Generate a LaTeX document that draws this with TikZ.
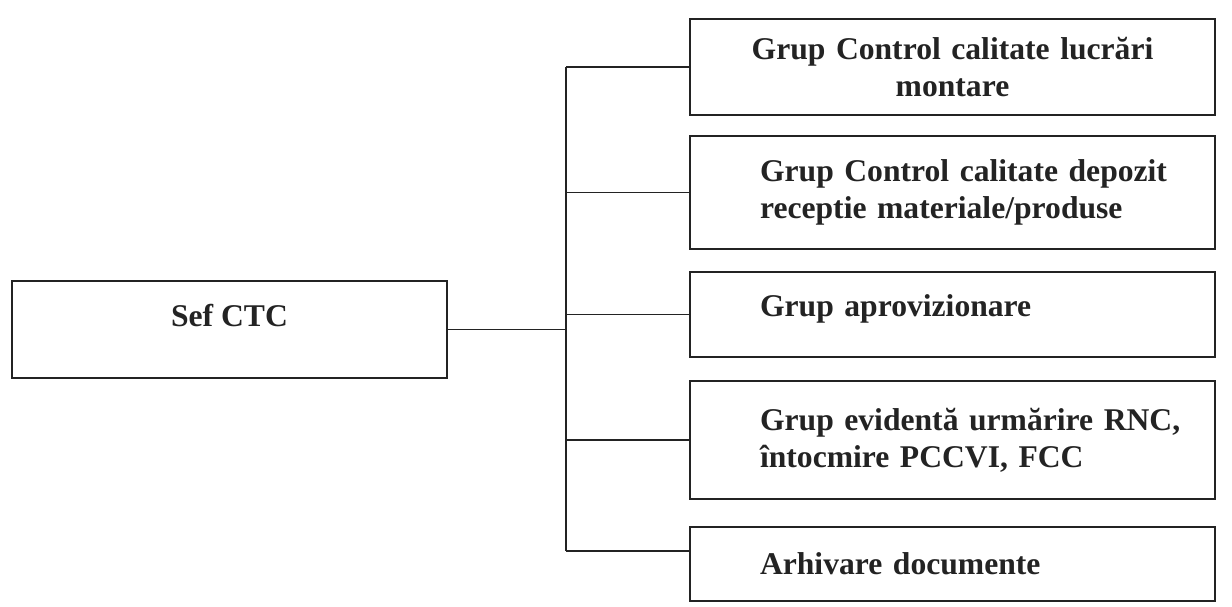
\documentclass[tikz,border=0pt]{standalone}
\usepackage{fontspec}
\setmainfont{Liberation Serif}
\definecolor{inkd}{RGB}{35,35,35}

\begin{document}
\begin{tikzpicture}[x=0.02cm, y=-0.02cm, line width=0.8pt, inkd,
        sefbox/.style={draw, minimum width=8.7cm, minimum height=1.94cm, font=\fontsize{18}{21}\selectfont\bfseries},
        grupbox/.style={draw, minimum width=10.5cm, text width=9.3cm, align=left, font=\fontsize{18}{21}\selectfont\bfseries},
        indented/.style={execute at begin node={\leftskip=0.8cm}}]
            \useasboundingbox (0,0) rectangle (1232,607);
            \node[sefbox, text depth=16.5pt] (sef) at (229.5,329.5) {Sef CTC};
            \node[grupbox, align=center, minimum height=1.92cm] (cal) at (952.5,67) {Grup Control calitate lucrări\\montare};
            \node[grupbox, indented, minimum height=2.26cm] (dep) at (952.5,192.5) {Grup Control calitate depozit\\receptie materiale/produse};
            \node[grupbox, indented, minimum height=1.7cm, text depth=10.5pt] (apr) at (952.5,314.5) {Grup aprovizionare};
            \node[grupbox, indented, minimum height=2.36cm] (evi) at (952.5,440) {Grup evidentă urmărire RNC,\\întocmire PCCVI, FCC};
            \node[grupbox, indented, minimum height=1.48cm] (arh) at (952.5,564) {Arhivare documente};
            \coordinate (trunk) at (566,0);
            \draw (sef.east) -- (sef.east -| trunk);
            \draw (cal.west -| trunk) -- ([yshift=0.26cm]arh.west -| trunk);
            \foreach \n in {cal,dep,apr,evi}
                {\draw (\n.west) -- (\n.west -| trunk);}
            \draw ([yshift=0.26cm]arh.west) -- ([yshift=0.26cm]arh.west -| trunk);
        \end{tikzpicture}
\end{document}
